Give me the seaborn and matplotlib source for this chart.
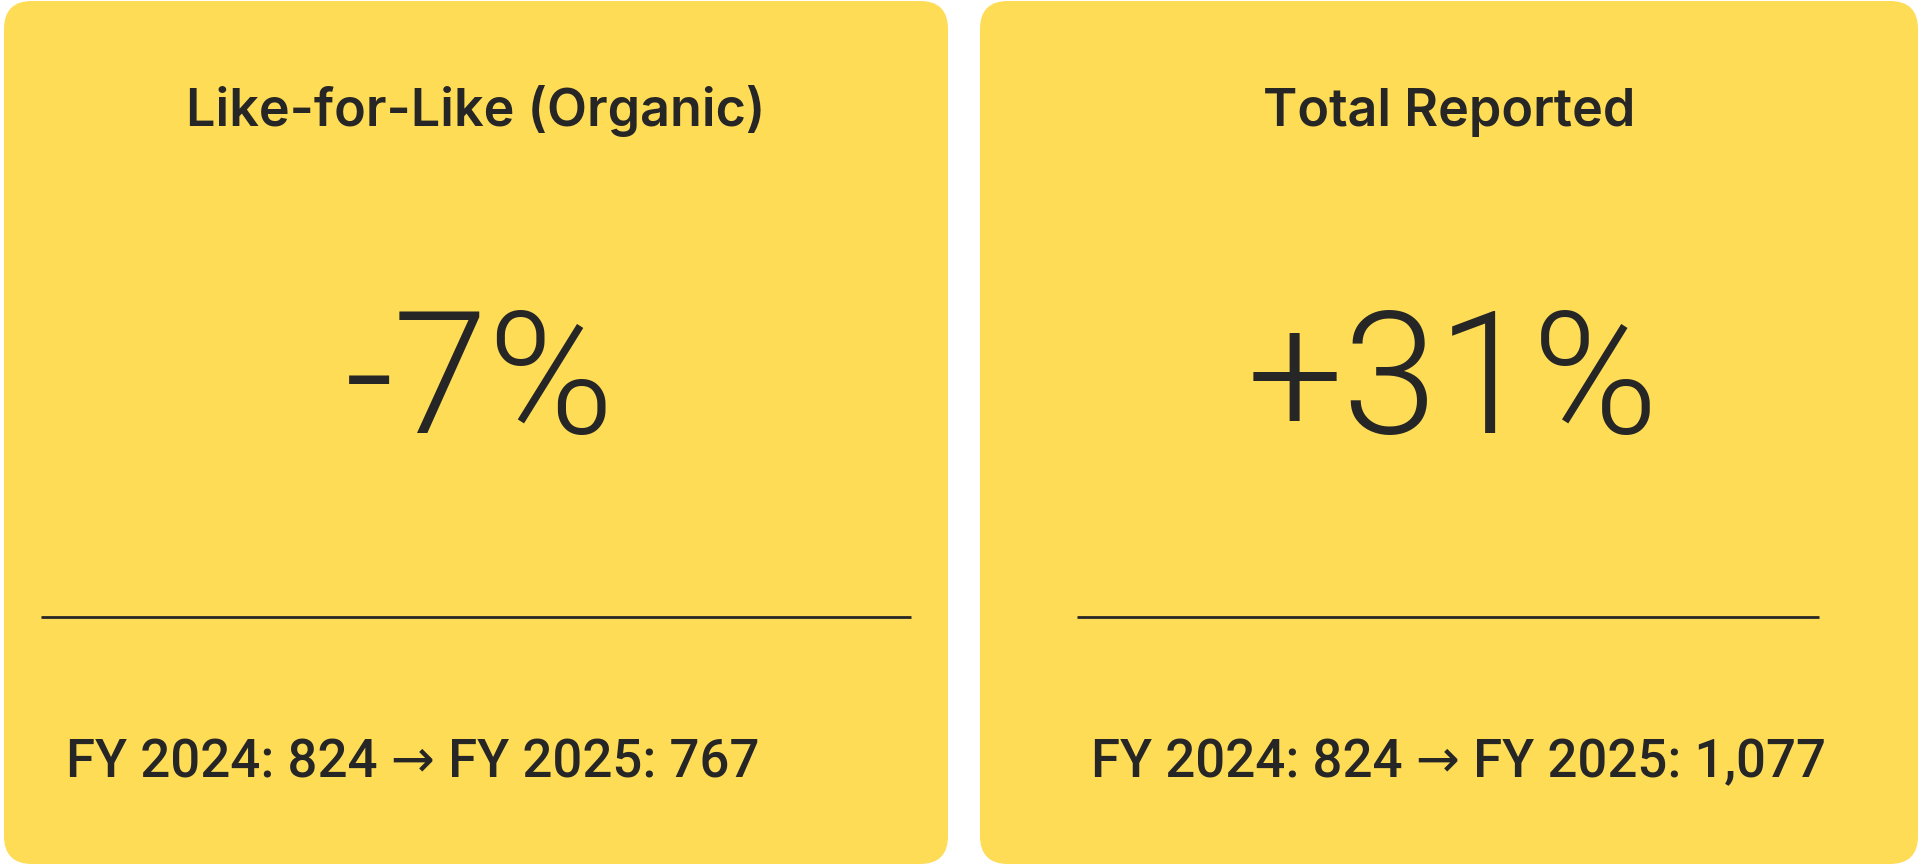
import matplotlib
matplotlib.use("Agg")
import matplotlib.pyplot as plt
from matplotlib.patches import FancyBboxPatch
import seaborn as sns

# data
card_titles = ["Like-for-Like (Organic)", "Total Reported"]
pct_change = [-7, 31]
fy2024_vals = [824, 824]
fy2025_vals = [767, 1077]

YELLOW = "#FEDC56"
INK = "#262626"

sns.set_theme(style="white")
plt.rcParams["font.family"] = ["Inter", "DejaVu Sans"]

W, H = 1920, 865
fig = plt.figure(figsize=(W / 100, H / 100), dpi=100)
ax = fig.add_axes([0, 0, 1, 1])
ax.set_xlim(0, W)
ax.set_ylim(H, 0)
ax.axis("off")

# card layout in pixels: (left, right), divider span, footer x
cards = [(4, 948), (980, 1918)]
dividers = [(41, 911), (1077, 1819)]
footer_x = [66, 1091]

for i, title in enumerate(card_titles):
    x0, x1 = cards[i]
    ax.add_patch(FancyBboxPatch((x0, 1), x1 - x0, H - 2,
                                boxstyle="round,pad=0,rounding_size=28",
                                fc=YELLOW, ec="none"))
    cx = (x0 + x1) / 2

    ax.text(cx, 126, title, ha="center", va="baseline", fontsize=37.5,
            fontweight="semibold", color=INK)

    sign = "+" if pct_change[i] > 0 else "-"
    ax.text(cx + 4, 433, f"{sign}{abs(pct_change[i])}%", ha="center", va="baseline",
            fontsize=123, fontweight=300, color=INK, family=["Roboto", "DejaVu Sans"])

    ax.hlines(617, dividers[i][0], dividers[i][1], color=INK, lw=2)

    footer = f"FY 2024: {fy2024_vals[i]:,} \u2192 FY 2025: {fy2025_vals[i]:,}"
    ax.text(footer_x[i], 777, footer, ha="left", va="baseline", fontsize=38,
            fontweight="medium", color=INK, family=["Roboto", "DejaVu Sans"])

fig.savefig("out.png", dpi=100, facecolor="white")
